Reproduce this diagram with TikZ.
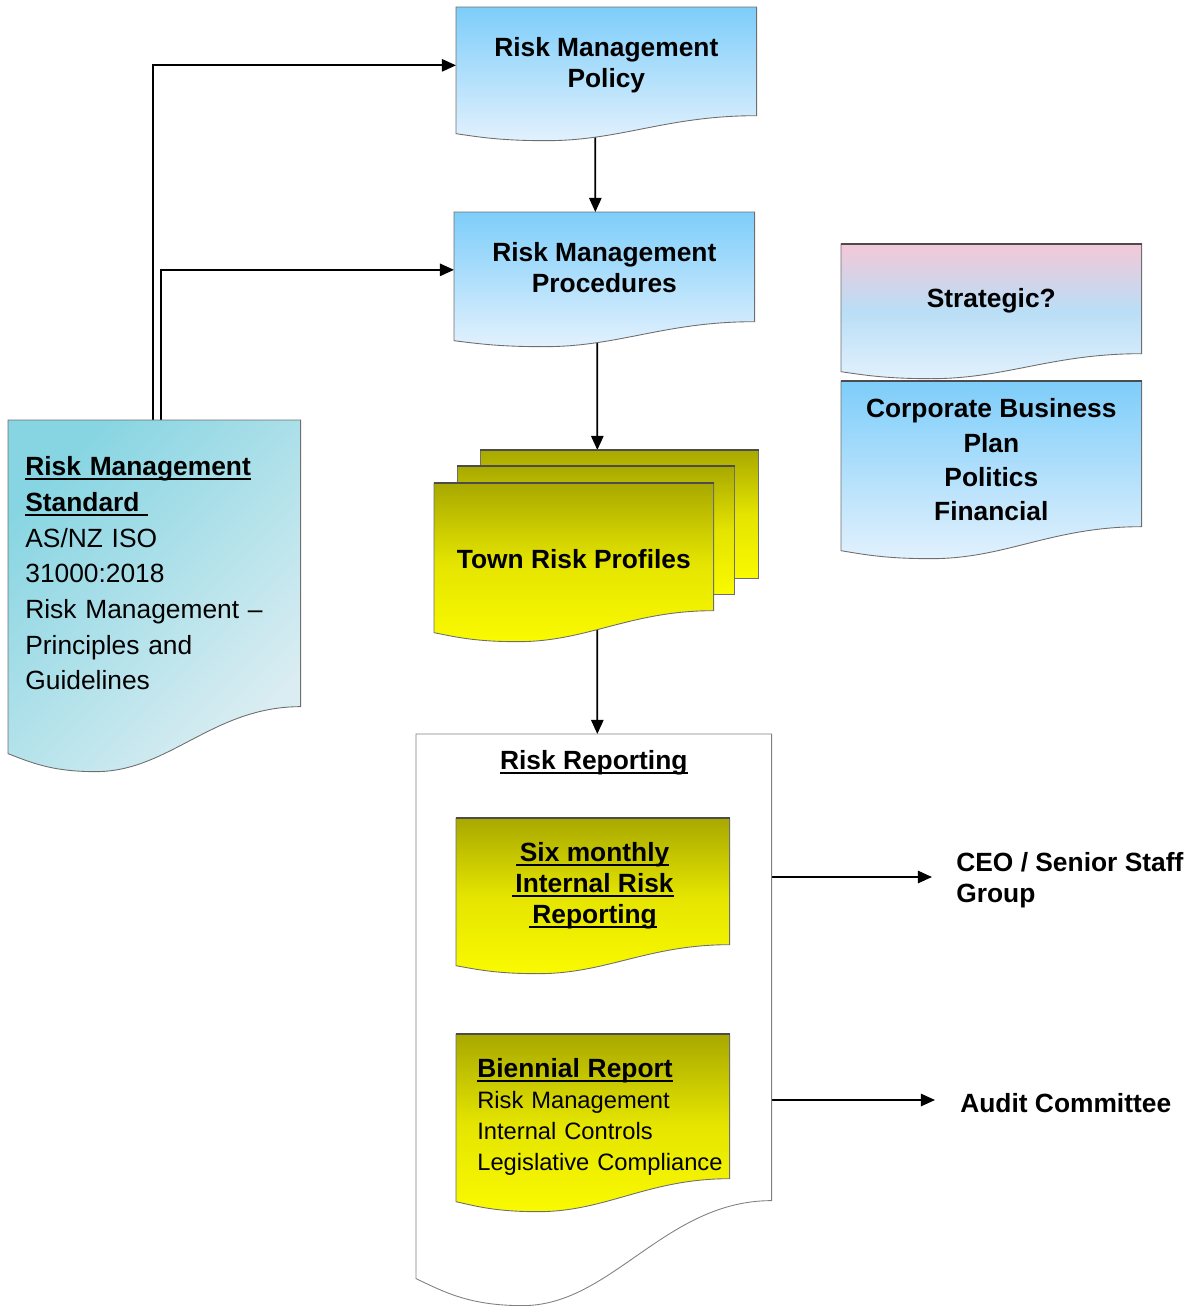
\documentclass[tikz,border=0pt]{standalone}
\usepackage{fontspec}
\setmainfont{Liberation Sans}
\newcommand{\ulbox}[1]{\leavevmode\setbox0=\hbox{#1}\rlap{\rule[-2.6pt]{\wd0}{1.1pt}}\box0}
\usepackage{tikz}
\usetikzlibrary{calc, arrows.meta, positioning}
\definecolor{skytop}{RGB}{125,205,250}
\definecolor{skybot}{RGB}{226,241,253}
\definecolor{skymid}{RGB}{185,222,246}
\definecolor{pinktop}{RGB}{243,200,216}
\definecolor{tealtop}{RGB}{135,213,226}
\definecolor{tealbot}{RGB}{218,237,242}
\definecolor{olivetop}{RGB}{168,168,0}
\definecolor{olivemid}{RGB}{228,228,0}
\definecolor{yellowbot}{RGB}{250,250,0}
\definecolor{edgegray}{RGB}{110,110,110}
\pgfdeclarelayer{bg}
\pgfdeclarelayer{shapes}
\pgfsetlayers{bg,shapes,main}
\tikzstyle{docnode} = [rectangle, inner sep=0pt, anchor=north west, align=center, font=\bfseries\fontsize{15}{17.6}\selectfont]
\tikzstyle{sheet} = [rectangle, inner sep=0pt, anchor=north west]
\tikzstyle{outtext} = [inner sep=0pt, align=left, font=\bfseries\fontsize{15}{17.6}\selectfont]
\tikzstyle{bluefill} = [draw=edgegray, line width=0.5pt, top color=skytop, bottom color=skybot]
\tikzstyle{stratfill} = [draw=edgegray, line width=0.5pt, top color=pinktop, bottom color=skybot, middle color=skymid]
\tikzstyle{tealfill} = [draw=edgegray, line width=0.5pt, top color=tealtop, bottom color=tealbot, shading angle=45]
\tikzstyle{yellowfill} = [draw=edgegray, line width=0.5pt, top color=olivetop, bottom color=yellowbot, middle color=olivemid]
\tikzstyle{whitefill} = [draw=gray, line width=0.5pt, fill=white]
\tikzstyle{topedge} = [draw=gray!60!black, line width=1.2pt]
\tikzstyle{arrow} = [line width=1pt, -{Triangle[length=8pt,width=7pt]}]
\newcommand{\docframe}[5][]{%
  \path[#1] (#2.north west) -- (#2.north east)
    -- ($(#2.south east)+(0,-#3)$)
    .. controls ($(#2.south east)!0.3!(#2.south west)+(0,-#3)$) and ($(#2.south west)!0.55!(#2.south east)+(0,#4+#5)$)
    .. ($(#2.south west)!0.3!(#2.south east)+(0,#4+#5)$)
    .. controls ($(#2.south west)!0.15!(#2.south east)+(0,#4+#5)$) and ($(#2.south west)!0.08!(#2.south east)+(0,#4+0.5*#5)$)
    .. ($(#2.south west)+(0,#4)$) -- cycle;}
\begin{document}
\begin{tikzpicture}[x=0.02cm, y=-0.02cm]
\useasboundingbox (0,0) rectangle (1196,1306);

\node (policy) [docnode, minimum width=6cm, minimum height=2.32cm] at (456,7) {Risk Management\\Policy};
\node (procedures) [docnode, minimum width=6cm, minimum height=2.2cm] at (454,212) {Risk Management\\Procedures};
\node (town3) [sheet, minimum width=5.56cm, minimum height=2.56cm] at (480,450) {};
\node (town2) [sheet, minimum width=5.54cm, minimum height=2.56cm] at (457,466) {};
\node (town) [docnode, minimum width=5.58cm, minimum height=3.02cm] at (434,483) {Town Risk Profiles};
\node (strategic) [docnode, minimum width=6cm, minimum height=2.24cm] at (841,244) {Strategic?};
\node (corporate) [docnode, minimum width=6cm, minimum height=3.14cm, font=\bfseries\fontsize{15}{19.6}\selectfont] at (841,381) {Corporate Business\\Plan\\Politics\\Financial};
\node (standard) [docnode, minimum width=5.84cm, minimum height=6.12cm, text width=5.16cm, align=left, font=\fontsize{15}{20.3}\selectfont] at (8,420) {\textbf{\ulbox{Risk Management}}\\\textbf{\ulbox{Standard\ }}\\AS/NZ ISO\\31000:2018\\Risk Management –\\Principles and\\Guidelines};
\node (report) [docnode, minimum width=7.1cm, minimum height=9.32cm] at (416,734) {};
\node (reportTitle) [below=0.32cm of report.north, inner sep=0pt, font=\bfseries\fontsize{15}{17.6}\selectfont] {\ulbox{Risk Reporting}};
\node (six) [docnode, minimum width=5.46cm, minimum height=2.68cm] at (456,818) {\ulbox{\kern2pt Six monthly}\\\ulbox{\kern2pt Internal Risk}\\\ulbox{\kern2pt Reporting}};
\node (biennial) [docnode, minimum width=5.46cm, minimum height=3.3cm, text width=4.62cm, align=left, font=\fontsize{13.5}{17.8}\selectfont] at (456,1034) {\textbf{\fontsize{15}{17}\selectfont\ulbox{Biennial Report}}\\Risk Management\\Internal Controls\\\mbox{Legislative Compliance}};
\node (ceo) [outtext, anchor=west] at (956,880) {CEO / Senior Staff\\Group};
\node (audit) [outtext, anchor=west] at (960,1103) {Audit Committee};

\begin{pgfonlayer}{shapes}
\docframe[bluefill]{policy}{8}{10}{7}
\docframe[bluefill]{procedures}{1}{18}{6}
\path[yellowfill] (town3.north west) rectangle (town3.south east);
\draw[topedge] (town3.north west) -- (town3.north east);
\path[yellowfill] (town2.north west) rectangle (town2.south east);
\draw[topedge] (town2.north west) -- (town2.north east);
\docframe[yellowfill]{town}{24}{-2}{9}
\draw[topedge] (town.north west) -- (town.north east);
\docframe[stratfill]{strategic}{3}{15}{7}
\draw[topedge] (strategic.north west) -- (strategic.north east);
\docframe[bluefill]{corporate}{12}{12}{8}
\draw[topedge] (corporate.north west) -- (corporate.north east);
\docframe[tealfill]{standard}{20}{27}{18}
\docframe[whitefill]{report}{0}{78}{27}
\docframe[yellowfill]{six}{8}{13}{8}
\draw[topedge] (six.north west) -- (six.north east);
\docframe[yellowfill]{biennial}{21}{2}{10}
\draw[topedge] (biennial.north west) -- (biennial.north east);
\end{pgfonlayer}

\begin{pgfonlayer}{bg}
\draw[arrow] ([xshift=-0.02cm]standard.north) |- (policy.west);
\draw[arrow] ([xshift=0.14cm]standard.north) |- ([yshift=-0.05cm]procedures.west);
\draw[arrow] ([xshift=-0.22cm]policy.south) -- ([xshift=-0.18cm]procedures.north);
\draw[arrow] ([xshift=-0.14cm]procedures.south) -- ([xshift=-0.44cm]town3.north);
\draw[arrow] ([xshift=0.47cm]town.center) -- ([xshift=0.07cm]report.north);
\draw[arrow, shorten >=0.48cm] ([yshift=0.06cm]report.east |- ceo.west) -- ([yshift=0.06cm]ceo.west);
\draw[arrow, shorten >=0.5cm] ([yshift=0.06cm]report.east |- audit.west) -- ([yshift=0.06cm]audit.west);
\end{pgfonlayer}
\end{tikzpicture}
\end{document}
